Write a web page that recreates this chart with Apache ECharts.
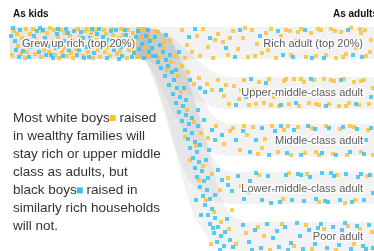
<!DOCTYPE html>
<html>
<head>
<meta charset="utf-8">
<script src="https://cdn.jsdelivr.net/npm/echarts@6/dist/echarts.min.js"></script>
<style>
html, body { margin: 0; padding: 0; background: #fff; }
#chart { width: 374px; height: 251px; }
</style>
</head>
<body>
<div id="chart"></div>
<script>
// labels
var startLabel = 'Grew up rich (top 20%)';
var outcomes = ['Rich adult (top 20%)', 'Upper-middle-class adult', 'Middle-class adult', 'Lower-middle-class adult', 'Poor adult'];
var outcomeY = [44, 93, 141, 189, 237];
var noteLines = [
  'Most white boys{w| } raised',
  'in wealthy families will',
  'stay rich or upper middle',
  'class as adults, but',
  'black boys{b| } raised in',
  'similarly rich households',
  'will not.'
];

// ribbons (x across the chart, y down the chart)
var sourcePath = [[10, 43], [150, 43]];
var richPath = [[140, 43], [374, 43]];
var upperPath = [[136, 43], [152, 45], [178, 64], [205, 86], [232, 93], [374, 93]];
var middlePath = [[136, 43], [152, 46], [170, 70], [188, 106], [207, 131], [234, 140], [374, 140]];
var lowerPath = [[136, 43], [152, 46], [167, 68], [181, 108], [194, 153], [210, 179], [238, 188], [374, 188]];
var poorPath = [[136, 43], [152, 46], [165, 66], [178, 104], [190, 145], [201, 185], [213, 217], [232, 234], [258, 238], [374, 238]];

// white boys (yellow)
var whiteKids = [[14,31],[22,38],[27,52],[33,29],[38,45],[41,57],[47,33],[52,41],[55,55],[61,30],[64,48],[70,36],[73,58],[78,29],[82,44],[88,52],[91,33],[96,40],[100,57],[104,30],[108,47],[113,35],[117,54],[121,29],[124,42],[129,50],[133,33],[137,57],[141,38],[145,47],[18,46],[25,58],[30,34],[44,50],[58,37],[67,56],[75,42],[85,31],[93,58],[102,44],[110,56],[119,38],[127,58],[135,44],[143,30],[12,55],[36,40],[50,28],[62,52],[80,37],[98,50],[115,43],[131,39],[147,55],
  [17,34],[26,29],[35,54],[49,52],[54,30],[65,33],[71,53],[83,56],[87,29],[95,30],[105,52],[112,29],[120,51],[128,30],[134,52],[140,29],[148,36],[152,50],[156,31],[21,54],[42,31],[59,58],[76,49],[92,47],[106,34],[123,35]];
var whiteFlow = [[154,40],[159,58],[164,42],[167,70],[171,62],[178,76],[182,66],[188,72],[194,84],[199,78],[207,84],[212,90],[181,92],[187,110],[194,122],[201,133],[208,138],[216,126],[224,144],[230,131],[196,146],[203,166],[212,174],[220,190],[228,178],[199,180],[206,200],[214,212],[221,222],[229,229],[236,244],[211,244],[190,160],[185,137],[232,210]];
var whiteRich = [[158,32],[163,48],[170,40],[176,56],[182,30],[187,45],[192,52],[197,36],[203,29],[208,47],[213,58],[218,34],[223,42],[228,55],[233,31],[238,49],[243,38],[248,57],[252,30],[257,44],[262,53],[266,33],[271,29],[276,58],[281,36],[286,30],[291,55],[296,41],[301,29],[306,57],[311,33],[316,56],[321,30],[326,55],[331,29],[336,58],[341,32],[346,54],[351,28],[356,48],[361,33],[366,56],[371,40],[200,56],[215,40],[245,28],[268,50],[298,32],[318,29],[343,57],[360,29],[370,52],[185,58],[230,38],[255,56],[290,31],[335,31],[365,30]];
var whiteUpper = [[218,80],[224,96],[229,104],[234,86],[239,99],[244,80],[249,105],[254,90],[259,82],[264,103],[269,79],[274,97],[279,106],[284,81],[289,104],[294,79],[299,106],[304,82],[309,103],[314,80],[319,105],[324,79],[329,104],[334,81],[339,106],[344,79],[349,103],[354,82],[359,105],[364,80],[369,104],[373,88],[226,85],[241,90],[256,104],[271,105],[286,79],[301,79],[316,104],[331,80],[346,106],[361,81]];
var whiteMiddle = [[233,128],[240,150],[247,135],[253,127],[258,154],[265,139],[272,126],[278,152],[284,130],[291,155],[298,127],[305,153],[312,128],[319,155],[326,126],[333,154],[340,129],[347,155],[354,127],[361,152],[368,130],[373,155],[244,126],[262,148],[288,126],[316,152],[350,126]];
var whiteLower = [[241,186],[259,175],[283,199],[307,174],[319,202],[337,175],[355,200],[367,176],[289,173],[345,203]];
var whitePoor = [[246,233],[258,227],[270,250],[282,224],[294,246],[306,225],[312,249],[324,229],[336,250],[348,226],[354,244],[360,229],[372,232],[264,236]];

// black boys (cyan)
var blackKids = [[11,36],[16,50],[20,30],[24,44],[29,57],[34,36],[39,52],[43,30],[48,46],[53,58],[57,34],[60,44],[66,29],[69,50],[72,40],[77,55],[81,32],[86,47],[90,38],[94,53],[99,29],[103,37],[107,58],[111,31],[114,50],[118,44],[122,56],[126,35],[130,46],[134,53],[138,31],[142,44],[146,36],[149,52],[15,41],[31,47],[46,55],[56,48],[68,33],[84,58],[97,34],[109,40],[125,30],[139,49],[150,41],[144,58],
  [13,28],[19,57],[28,40],[37,31],[45,38],[51,55],[63,56],[74,31],[79,50],[89,57],[101,48],[116,30],[121,47],[132,57],[136,37],[148,30],[153,56],[155,37],[23,51],[40,28],[58,29],[65,41],[83,38],[92,29],[106,43],[119,59],[128,41]];
var blackFlow = [[152,48],[156,56],[160,45],[158,62],[163,52],[166,60],[161,68],[168,66],[170,55],[172,72],[165,76],[174,80],[169,85],[177,88],[173,94],[180,97],[176,103],[183,106],[179,112],[186,115],[182,121],[189,124],[185,130],[192,133],[188,139],[195,142],[190,148],[197,152],[193,158],[199,162],[195,168],[202,171],[197,177],[204,181],[200,187],[207,190],[203,196],[210,199],[205,205],[212,209],[208,215],[215,218],[210,224],[218,227],[214,233],[221,236],[217,242],[224,246],[220,250],[186,100],[192,118],[200,145],[208,178],[213,228],[176,70],[184,88],[198,126],[206,160],[215,195],[225,232],[230,240],[228,185],[222,180],[232,191],[215,140],[222,135],[212,130],[200,88],[190,80],[205,92],[198,110],[204,120],[209,150],[218,170],[196,200],[201,215],[227,219],[233,247]];
var blackRich = [[166,35],[179,52],[195,29],[210,38],[226,48],[240,30],[260,36],[278,31],[293,57],[305,30],[324,58],[348,30],[362,57],[235,57],[189,37],[353,55],[283,55],[312,58]];
var blackUpper = [[221,90],[236,105],[251,79],[266,83],[281,105],[296,103],[311,79],[326,106],[341,80],[356,104],[371,97],[246,97]];
var blackMiddle = [[236,140],[243,131],[250,152],[256,140],[262,128],[269,155],[275,131],[281,126],[287,153],[294,130],[301,155],[308,126],[315,129],[322,153],[329,128],[336,155],[343,127],[350,152],[357,129],[364,154],[371,128],[277,143],[297,141],[366,140]];
var blackLower = [[238,176],[244,199],[250,181],[256,173],[262,200],[268,176],[274,190],[280,202],[286,175],[292,200],[298,174],[304,201],[310,177],[316,199],[322,173],[328,202],[334,176],[340,200],[346,174],[352,202],[358,177],[364,200],[370,175],[373,193],[248,192],[271,203],[301,175],[331,173],[361,174],[325,201]];
var blackPoor = [[243,225],[249,242],[255,230],[261,248],[267,224],[273,238],[279,247],[285,227],[291,243],[297,223],[303,249],[309,230],[315,244],[321,224],[327,248],[333,227],[339,245],[345,223],[351,249],[357,226],[363,246],[369,225],[373,248],[277,231],[300,236],[318,228],[342,230],[366,249],[252,250],[288,250]];

var YELLOW = '#fbc12e';
var CYAN = '#2cc2f2';
var FONT = '"Liberation Sans", Arial, sans-serif';

var whiteDots = [].concat(whiteKids, whiteFlow, whiteRich, whiteUpper, whiteMiddle, whiteLower, whitePoor);
var blackDots = [].concat(blackKids, blackFlow, blackRich, blackUpper, blackMiddle, blackLower, blackPoor);

function ribbon(path, color) {
  return {
    type: 'line',
    data: path,
    smooth: 0.45,
    showSymbol: false,
    silent: true,
    z: 1,
    lineStyle: { width: 32, color: color, cap: 'butt' }
  };
}

var flowColor = 'rgba(150,150,150,0.12)';

var labelStyle = {
  show: true,
  formatter: '{b}',
  distance: 0,
  color: '#333',
  fontFamily: FONT,
  fontSize: 11,
  textBorderColor: '#fff',
  textBorderWidth: 3
};

var chart = echarts.init(document.getElementById('chart'));
var option = {
  animation: false,
  grid: { left: 0, right: 0, top: 0, bottom: 0 },
  xAxis: { type: 'value', min: 0, max: 374, show: false },
  yAxis: { type: 'value', min: 0, max: 251, inverse: true, show: false },
  series: [
    ribbon(sourcePath, 'rgba(150,150,150,0.24)'),
    ribbon(richPath, flowColor),
    ribbon(upperPath, flowColor),
    ribbon(middlePath, flowColor),
    ribbon(lowerPath, flowColor),
    ribbon(poorPath, flowColor),
    {
      type: 'scatter', data: whiteDots, symbol: 'rect', symbolSize: 4, z: 3,
      itemStyle: { color: YELLOW }, silent: true
    },
    {
      type: 'scatter', data: blackDots, symbol: 'rect', symbolSize: 4, z: 3,
      itemStyle: { color: CYAN }, silent: true
    },
    {
      type: 'scatter', z: 5, symbolSize: 0, silent: true,
      data: outcomes.map(function (name, i) { return { value: [363, outcomeY[i]], name: name }; }),
      label: Object.assign({ position: 'left' }, labelStyle)
    },
    {
      type: 'scatter', z: 5, symbolSize: 0, silent: true,
      data: [{ value: [22, 44], name: startLabel }],
      label: Object.assign({ position: 'right' }, labelStyle)
    }
  ],
  graphic: [
    { type: 'text', left: 13, top: 9, style: { text: 'As kids', font: 'bold 10px ' + FONT, fill: '#111' } },
    { type: 'text', left: 333, top: 9, style: { text: 'As adults', font: 'bold 10px ' + FONT, fill: '#111' } }
  ].concat(noteLines.map(function (line, i) {
    return {
      type: 'text', left: 13, top: 111 + i * 18.1,
      style: {
        text: line,
        font: '13.5px ' + FONT,
        fill: '#333',
        rich: {
          w: { backgroundColor: YELLOW, width: 6, height: 6, fontSize: 6 },
          b: { backgroundColor: CYAN, width: 6, height: 6, fontSize: 6 }
        }
      }
    };
  }))
};
chart.setOption(option);
</script>
</body>
</html>
